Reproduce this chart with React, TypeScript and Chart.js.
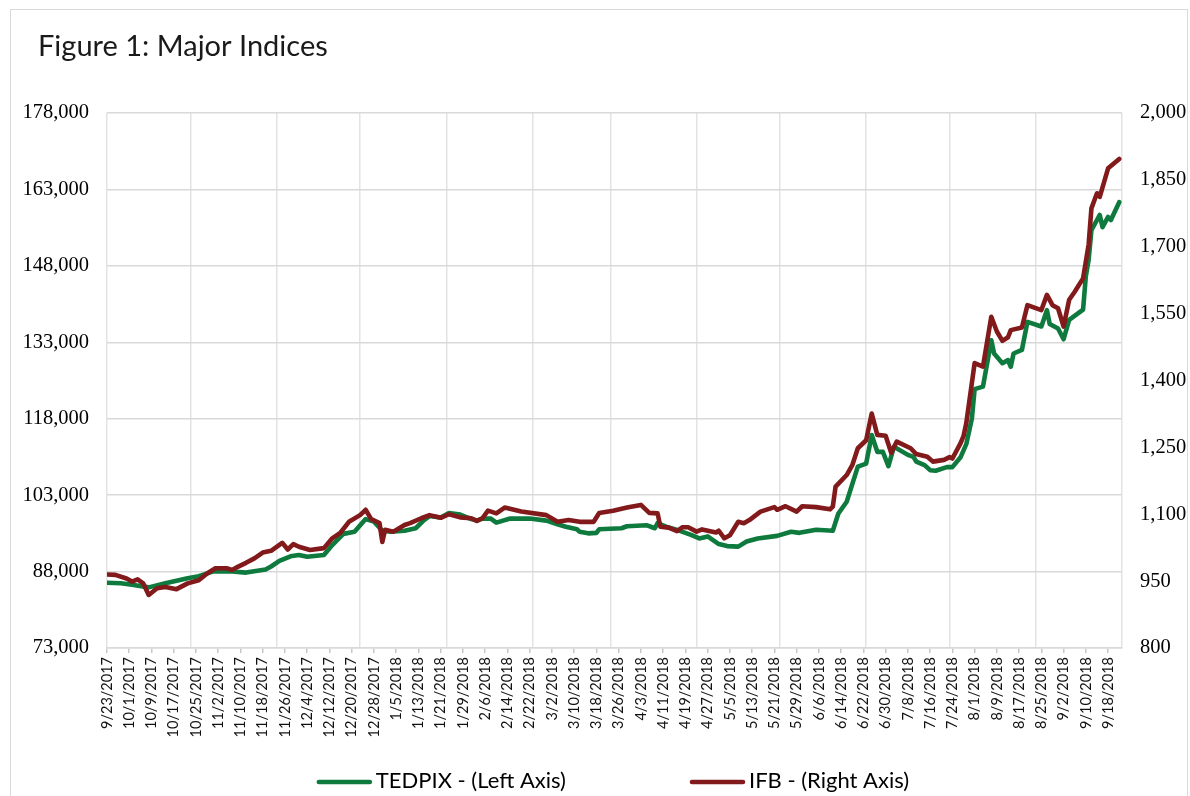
import React, { useEffect, useRef } from "react";
import { Chart, registerables } from "chart.js";

Chart.register(...registerables);

// ---------- data ----------
const chartTitle = "Figure 1: Major Indices";
const axisStartDate = "2017-09-23";
const axisEndDate = "2018-09-23";
const labelEveryDays = 8;

const tedpixLabel = "TEDPIX - (Left Axis)";
const tedpixDates = [
  "2017-09-23", "2017-09-28", "2017-10-02", "2017-10-08", "2017-10-14", "2017-10-22", "2017-10-26", "2017-10-31",
  "2017-11-07", "2017-11-12", "2017-11-19", "2017-11-21", "2017-11-24", "2017-11-28", "2017-12-01", "2017-12-04",
  "2017-12-10", "2017-12-13", "2017-12-17", "2017-12-21", "2017-12-25", "2017-12-28", "2017-12-31", "2018-01-03",
  "2018-01-08", "2018-01-12", "2018-01-15", "2018-01-17", "2018-01-21", "2018-01-24", "2018-01-28", "2018-02-01",
  "2018-02-03", "2018-02-05", "2018-02-08", "2018-02-10", "2018-02-15", "2018-02-22", "2018-02-28", "2018-03-04",
  "2018-03-07", "2018-03-11", "2018-03-12", "2018-03-15", "2018-03-18", "2018-03-19", "2018-03-27", "2018-03-29",
  "2018-04-05", "2018-04-08", "2018-04-09", "2018-04-12", "2018-04-17", "2018-04-21", "2018-04-24", "2018-04-27",
  "2018-05-01", "2018-05-04", "2018-05-08", "2018-05-11", "2018-05-15", "2018-05-22", "2018-05-27", "2018-05-30",
  "2018-06-05", "2018-06-11", "2018-06-13", "2018-06-16", "2018-06-20", "2018-06-23", "2018-06-25", "2018-06-27",
  "2018-06-29", "2018-07-01", "2018-07-03", "2018-07-08", "2018-07-10", "2018-07-11", "2018-07-14", "2018-07-16",
  "2018-07-18", "2018-07-22", "2018-07-24", "2018-07-27", "2018-07-29", "2018-07-31", "2018-08-01", "2018-08-04",
  "2018-08-07", "2018-08-08", "2018-08-11", "2018-08-13", "2018-08-14", "2018-08-15", "2018-08-18", "2018-08-20",
  "2018-08-25", "2018-08-27", "2018-08-28", "2018-08-31", "2018-09-02", "2018-09-04", "2018-09-09", "2018-09-10",
  "2018-09-11", "2018-09-12", "2018-09-14", "2018-09-15", "2018-09-16", "2018-09-18", "2018-09-19", "2018-09-22",
];
const tedpixValues = [
  85800, 85700, 85400, 84900, 85700, 86700, 87100, 88000,
  88000, 87800, 88400, 89000, 90100, 91000, 91250, 90900,
  91250, 93200, 95400, 95800, 98300, 97800, 96000, 95800,
  96000, 96500, 98100, 98900, 98600, 99500, 99200, 98300,
  98000, 98400, 98400, 97600, 98400, 98400, 98000, 97300,
  96800, 96300, 95800, 95500, 95600, 96300, 96500, 96900,
  97100, 96500, 97500, 96800, 96000, 95200, 94500, 94900,
  93400, 93000, 92900, 93900, 94500, 95000, 95800, 95600,
  96200, 96000, 99400, 101700, 108600, 109200, 114800, 111500,
  111500, 108700, 112500, 110900, 110500, 109600, 108900, 107900,
  107800, 108500, 108500, 110500, 113000, 118000, 123800, 124300,
  133400, 130800, 128900, 129500, 128200, 130800, 131500, 137000,
  136100, 139300, 136600, 135700, 133600, 137400, 139400, 146000,
  149200, 155000, 157000, 158000, 155600, 157600, 157000, 160500,
];

const ifbLabel = "IFB - (Right Axis)";
const ifbDates = [
  "2017-09-23", "2017-09-26", "2017-09-30", "2017-10-02", "2017-10-04", "2017-10-06", "2017-10-08", "2017-10-11",
  "2017-10-14", "2017-10-18", "2017-10-22", "2017-10-26", "2017-10-29", "2017-11-01", "2017-11-05", "2017-11-07",
  "2017-11-09", "2017-11-12", "2017-11-15", "2017-11-18", "2017-11-21", "2017-11-25", "2017-11-27", "2017-11-29",
  "2017-12-01", "2017-12-05", "2017-12-10", "2017-12-13", "2017-12-16", "2017-12-19", "2017-12-23", "2017-12-25",
  "2017-12-27", "2017-12-30", "2017-12-31", "2018-01-01", "2018-01-04", "2018-01-08", "2018-01-10", "2018-01-14",
  "2018-01-17", "2018-01-21", "2018-01-24", "2018-01-28", "2018-02-01", "2018-02-03", "2018-02-05", "2018-02-07",
  "2018-02-10", "2018-02-13", "2018-02-19", "2018-02-28", "2018-03-04", "2018-03-08", "2018-03-12", "2018-03-17",
  "2018-03-19", "2018-03-24", "2018-03-29", "2018-04-03", "2018-04-06", "2018-04-09", "2018-04-10", "2018-04-13",
  "2018-04-16", "2018-04-18", "2018-04-20", "2018-04-23", "2018-04-25", "2018-04-30", "2018-05-01", "2018-05-03",
  "2018-05-05", "2018-05-08", "2018-05-10", "2018-05-12", "2018-05-16", "2018-05-21", "2018-05-22", "2018-05-25",
  "2018-05-29", "2018-05-31", "2018-06-05", "2018-06-10", "2018-06-11", "2018-06-12", "2018-06-16", "2018-06-18",
  "2018-06-20", "2018-06-23", "2018-06-25", "2018-06-27", "2018-06-30", "2018-07-02", "2018-07-04", "2018-07-09",
  "2018-07-11", "2018-07-15", "2018-07-17", "2018-07-21", "2018-07-23", "2018-07-24", "2018-07-27", "2018-07-28",
  "2018-07-29", "2018-08-01", "2018-08-04", "2018-08-07", "2018-08-09", "2018-08-11", "2018-08-13", "2018-08-14",
  "2018-08-18", "2018-08-20", "2018-08-25", "2018-08-27", "2018-08-29", "2018-08-31", "2018-09-02", "2018-09-04",
  "2018-09-06", "2018-09-09", "2018-09-11", "2018-09-12", "2018-09-14", "2018-09-15", "2018-09-18", "2018-09-22",
];
const ifbValues = [
  965, 964, 956, 949, 954, 945, 919, 934,
  937, 932, 945, 952, 967, 979, 979, 975,
  982, 991, 1001, 1014, 1018, 1036, 1021, 1033,
  1027, 1020, 1024, 1046, 1059, 1083, 1098, 1110,
  1089, 1080, 1038, 1065, 1061, 1076, 1080, 1091,
  1098, 1092, 1100, 1093, 1091, 1085, 1091, 1108,
  1102, 1115, 1106, 1098, 1083, 1087, 1083, 1083,
  1103, 1108, 1115, 1121, 1103, 1102, 1072, 1070,
  1062, 1071, 1071, 1061, 1066, 1059, 1063, 1046,
  1053, 1083, 1080, 1087, 1106, 1116, 1110, 1118,
  1106, 1118, 1116, 1111, 1117, 1162, 1188, 1210,
  1248, 1266, 1326, 1278, 1276, 1238, 1263, 1248,
  1235, 1229, 1218, 1222, 1228, 1225, 1260, 1275,
  1304, 1439, 1431, 1543, 1510, 1489, 1497, 1513,
  1519, 1569, 1558, 1592, 1569, 1562, 1521, 1581,
  1599, 1629, 1705, 1786, 1820, 1812, 1876, 1897,
];

const leftAxisMin = 73000;
const leftAxisMax = 178000;
const leftAxisStep = 15000;
const rightAxisMin = 800;
const rightAxisMax = 2000;
const rightAxisStep = 150;

// ---------- style ----------
const GREEN = "#0f7a3d";
const RED = "#821a1c";
const GRID = "#d9d9d9";
const SANS = "Lato, 'Open Sans', sans-serif";
const SERIF = "'Liberation Serif', 'Times New Roman', serif";
const LINE_WIDTH = 4.6;

// ---------- helpers ----------
const DAY = 86400000;
function toUTC(s: string): number {
  const [y, m, d] = s.split("-").map(Number);
  return Date.UTC(y, m - 1, d);
}
const startUTC = toUTC(axisStartDate);
function dayIndex(s: string): number {
  return Math.round((toUTC(s) - startUTC) / DAY);
}
function formatDay(day: number): string {
  const dt = new Date(startUTC + day * DAY);
  return `${dt.getUTCMonth() + 1}/${dt.getUTCDate()}/${dt.getUTCFullYear()}`;
}
const axisMaxDay = dayIndex(axisEndDate);

const monthDays: number[] = [];
{
  const s = new Date(startUTC);
  for (let m = 0; ; m++) {
    const t = Date.UTC(s.getUTCFullYear(), s.getUTCMonth() + m, s.getUTCDate());
    const d = Math.round((t - startUTC) / DAY);
    if (d > axisMaxDay) break;
    monthDays.push(d);
  }
}
const monthSet = new Set(monthDays);
const labelDays: number[] = [];
for (let d = 0; d <= axisMaxDay; d += labelEveryDays) labelDays.push(d);
const xTickValues = Array.from(new Set([...labelDays, ...monthDays])).sort((a, b) => a - b);

// Title drawn in the top-left corner, Excel style
const titlePlugin = {
  id: "excelTitle",
  afterDraw(chart: any) {
    const ctx = chart.ctx as CanvasRenderingContext2D;
    ctx.save();
    ctx.font = `29px ${SANS}`;
    ctx.fillStyle = "#1a1a1a";
    ctx.textBaseline = "middle";
    ctx.textAlign = "left";
    ctx.fillText(chartTitle, 27, 37);
    ctx.restore();
  },
};

const legendPlugin = {
  id: "excelLegend",
  afterDraw(chart: any) {
    const ctx = chart.ctx as CanvasRenderingContext2D;
    const items = chart.data.datasets.map((ds: any) => ({ label: ds.label, color: ds.borderColor }));
    ctx.save();
    ctx.font = `22px ${SANS}`;
    const lineLen = 55;
    const textGap = 4;
    const itemGap = 124;
    const widths = items.map((it: any) => lineLen + textGap + ctx.measureText(it.label).width);
    const total = widths.reduce((a: number, b: number) => a + b, 0) + itemGap * (items.length - 1);
    let x = 602 - total / 2;
    const y = 771;
    items.forEach((it: any, i: number) => {
      ctx.strokeStyle = it.color;
      ctx.lineWidth = LINE_WIDTH;
      ctx.lineCap = "round";
      ctx.beginPath();
      ctx.moveTo(x + 2, y + 1);
      ctx.lineTo(x + lineLen - 2, y + 1);
      ctx.stroke();
      ctx.fillStyle = "#000";
      ctx.textBaseline = "middle";
      ctx.textAlign = "left";
      ctx.fillText(it.label, x + lineLen + textGap, y);
      x += widths[i] + itemGap;
    });
    ctx.restore();
  },
};

export default function App() {
  const canvasRef = useRef<HTMLCanvasElement | null>(null);

  useEffect(() => {
    const canvas = canvasRef.current;
    if (!canvas) return;
    const chart = new Chart(canvas, {
      type: "line",
      data: {
        datasets: [
          {
            label: tedpixLabel,
            data: tedpixDates.map((d, i) => ({ x: dayIndex(d), y: tedpixValues[i] })),
            borderColor: GREEN,
            backgroundColor: GREEN,
            borderWidth: LINE_WIDTH,
            pointRadius: 0,
            tension: 0,
            borderJoinStyle: "round",
            borderCapStyle: "round",
            yAxisID: "y",
            order: 1,
          },
          {
            label: ifbLabel,
            data: ifbDates.map((d, i) => ({ x: dayIndex(d), y: ifbValues[i] })),
            borderColor: RED,
            backgroundColor: RED,
            borderWidth: LINE_WIDTH,
            pointRadius: 0,
            tension: 0,
            borderJoinStyle: "round",
            borderCapStyle: "round",
            yAxisID: "y1",
            order: 0,
          },
        ],
      },
      options: {
        responsive: false,
        animation: false,
        devicePixelRatio: 1,
        layout: { padding: { left: 0, right: 0, top: 103, bottom: 53 } },
        plugins: {
          legend: { display: false },
          tooltip: { enabled: false },
          title: { display: false },
        },
        scales: {
          x: {
            type: "linear",
            min: 0,
            max: axisMaxDay,
            afterBuildTicks: (scale: any) => {
              scale.ticks = xTickValues.map((v) => ({ value: v }));
            },
            afterFit: (scale: any) => {
              scale.height = 95;
            },
            ticks: {
              autoSkip: false,
              maxRotation: 90,
              minRotation: 90,
              padding: 4,
              color: "#111",
              font: { family: SANS, size: 14.5 },
              callback: (value: any) => (Number(value) % labelEveryDays === 0 ? formatDay(Number(value)) : ""),
            },
            grid: {
              drawTicks: true,
              tickLength: 5,
              color: (c: any) => (c.tick && monthSet.has(c.tick.value) ? "#e3e3e3" : "rgba(0,0,0,0)"),
              tickColor: (c: any) => (c.tick && c.tick.value % labelEveryDays === 0 ? "#c8c8c8" : "rgba(0,0,0,0)"),
              lineWidth: 1.5,
            },
            border: { display: true, color: GRID, width: 1.5 },
          },
          y: {
            type: "linear",
            position: "left",
            min: leftAxisMin,
            max: leftAxisMax,
            afterFit: (scale: any) => {
              scale.width = 96;
            },
            ticks: {
              stepSize: leftAxisStep,
              padding: 18,
              color: "#000",
              font: { family: SERIF, size: 20.5 },
              callback: (v: any) => Number(v).toLocaleString("en-US"),
            },
            grid: { color: GRID, lineWidth: 1.5, drawTicks: false },
            border: { display: false },
          },
          y1: {
            type: "linear",
            position: "right",
            min: rightAxisMin,
            max: rightAxisMax,
            afterFit: (scale: any) => {
              scale.width = 65;
            },
            ticks: {
              stepSize: rightAxisStep,
              padding: 18,
              color: "#000",
              font: { family: SERIF, size: 20.5 },
              callback: (v: any) => Number(v).toLocaleString("en-US"),
            },
            grid: { drawOnChartArea: false, drawTicks: false },
            border: { display: false },
          },
        },
      },
      plugins: [titlePlugin, legendPlugin],
    });
    return () => chart.destroy();
  }, []);

  return (
    <div
      style={{
        position: "absolute",
        left: 10,
        top: 9,
        width: 1178,
        height: 787,
        boxSizing: "border-box",
        borderTop: "1px solid #d9d9d9",
        borderLeft: "1px solid #d9d9d9",
        borderRight: "1px solid #d9d9d9",
        background: "#fff",
        overflow: "hidden",
      }}
    >
      <canvas ref={canvasRef} width={1176} height={786} style={{ display: "block" }} />
    </div>
  );
}
